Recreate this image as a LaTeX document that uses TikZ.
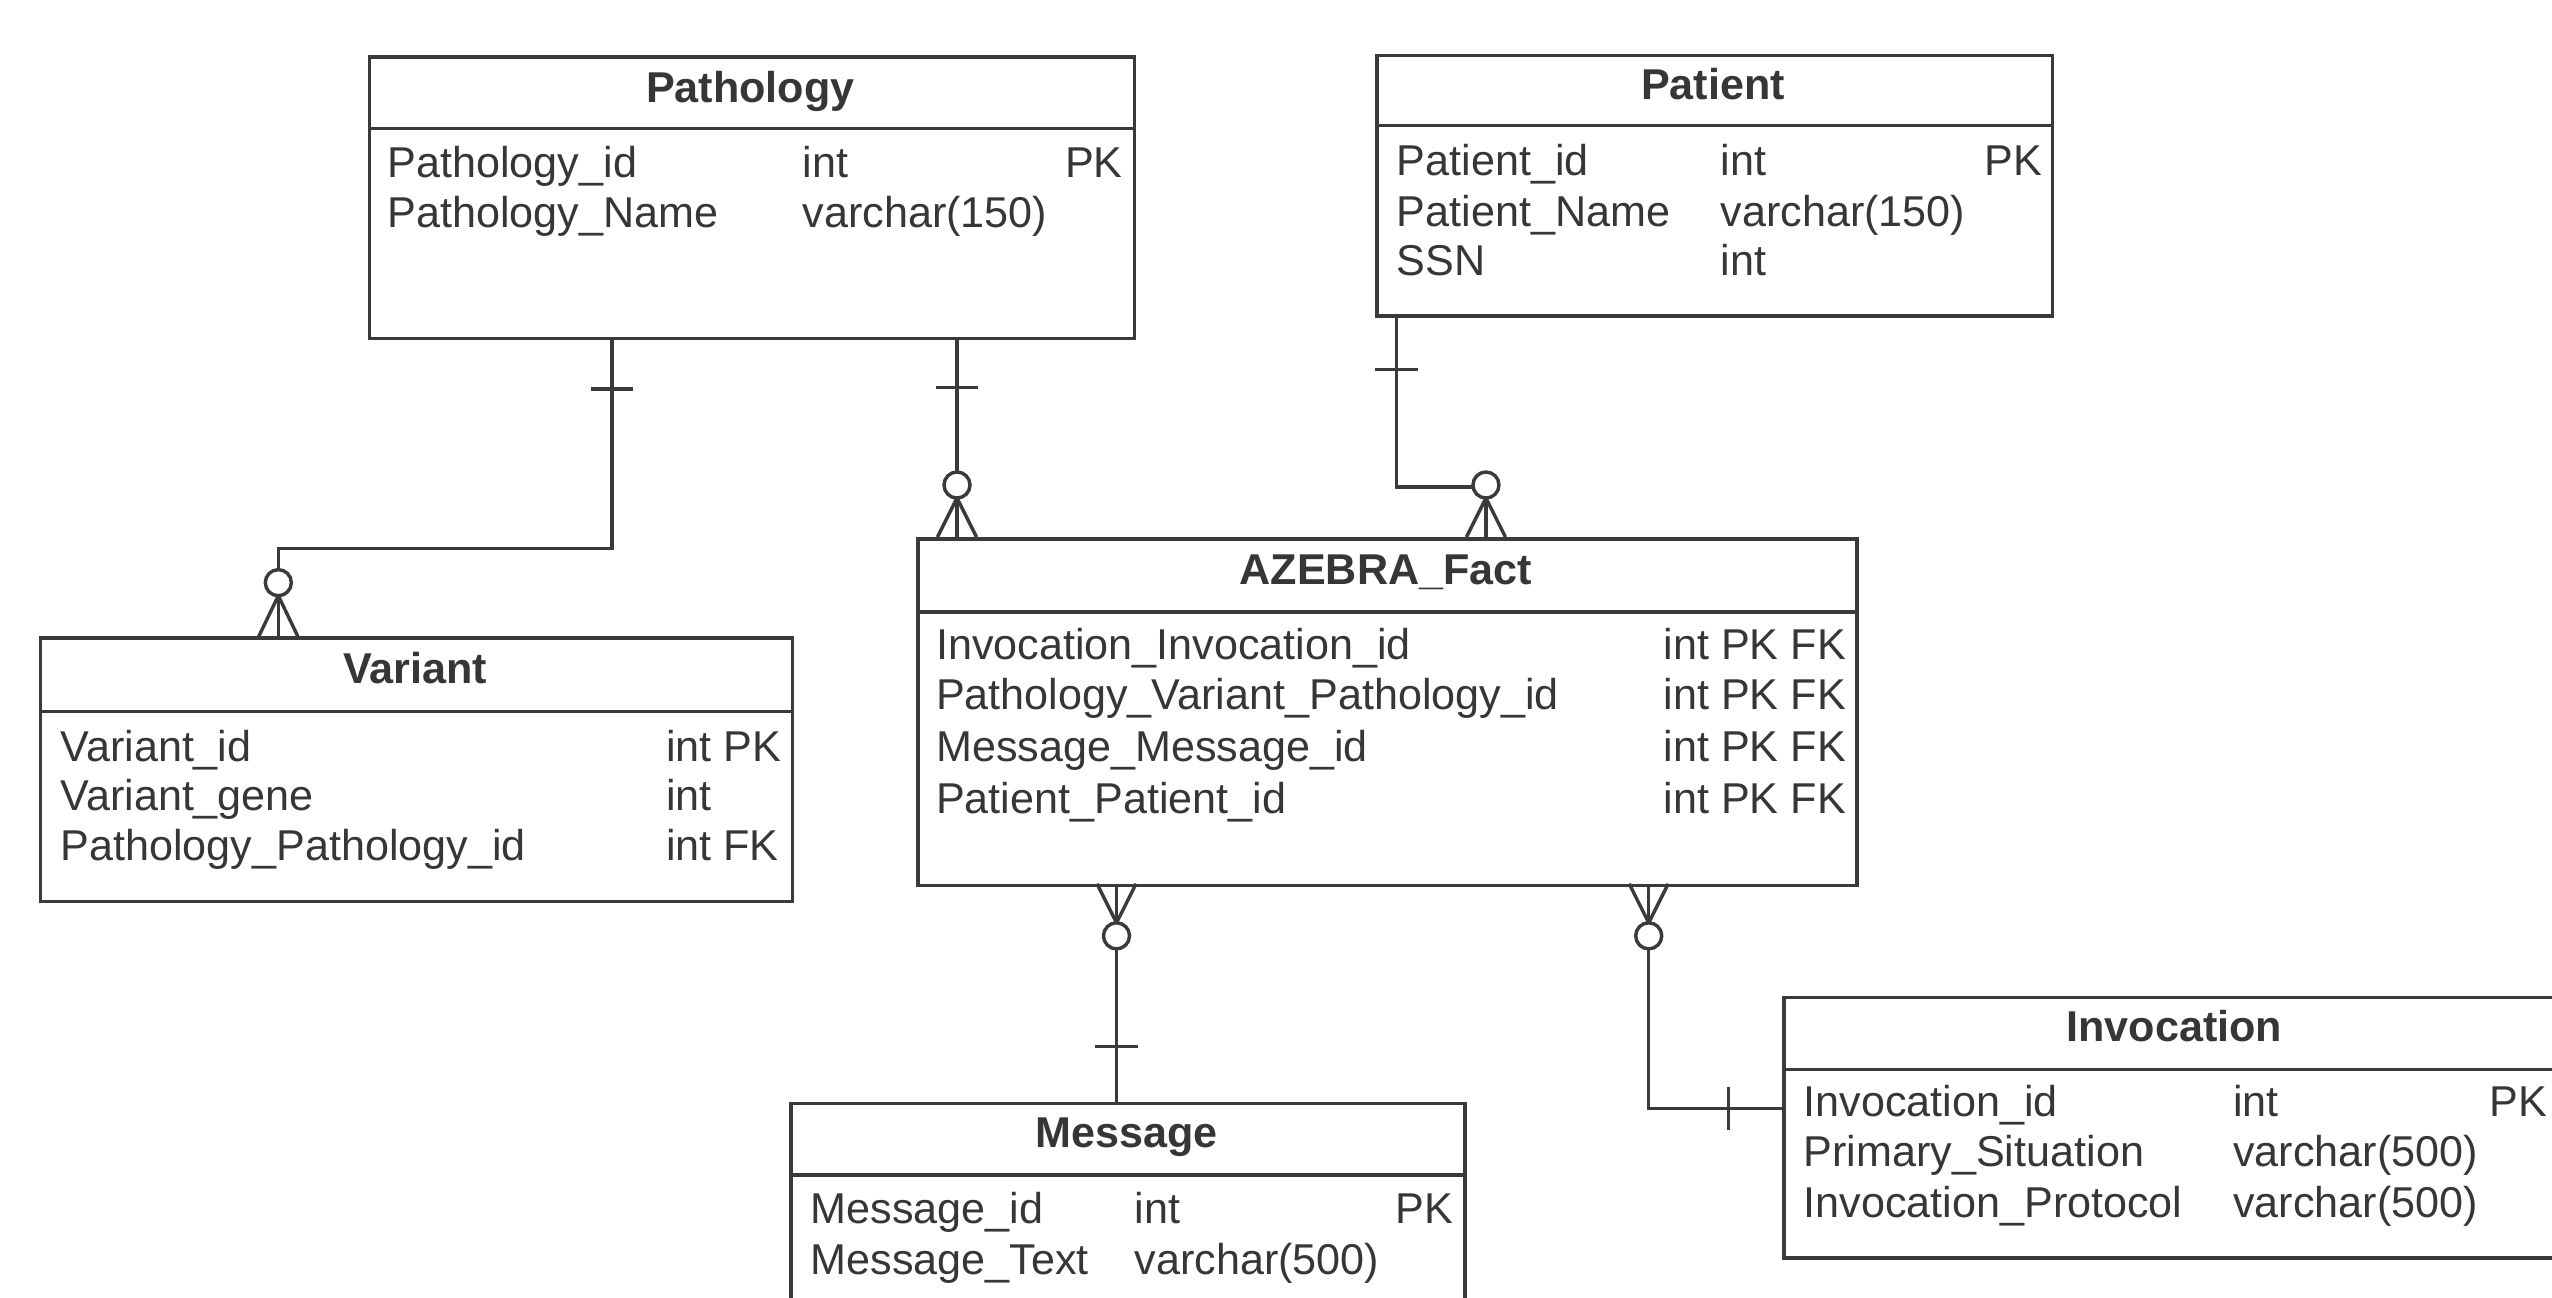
\documentclass[tikz,border=0pt]{standalone}
\usepackage{fontspec}
\setmainfont{Liberation Sans}
\definecolor{lc}{HTML}{3A3A3A}
\definecolor{tc}{HTML}{363636}
\begin{document}
\begin{tikzpicture}[x=1pt,y=-1pt,
  tbl/.style={draw=lc, line width=2.1pt, fill=white, rectangle, anchor=north west, inner sep=0pt},
  divl/.style={draw=lc, line width=2.1pt},
  hd/.style={anchor=base, font=\fontsize{26.5}{30}\selectfont\bfseries, text=tc, inner sep=0pt},
  fld/.style={anchor=base west, font=\fontsize{26.5}{30}\selectfont, text=tc, inner sep=0pt},
  fldr/.style={anchor=base east, font=\fontsize{26.5}{30}\selectfont, text=tc, inner sep=0pt},
  rel/.style={draw=lc, line width=2.1pt},
  ring/.style={draw=lc, line width=2.1pt, fill=white}]
\clip (0,0) rectangle (1568,797);
\fill[white] (0,0) rectangle (1568,797);

% ---------- Pathology ----------
\node[tbl, minimum width=470pt, minimum height=173pt] (patho) at (226,34) {};
\draw[divl] ([yshift=-45pt]patho.north west) -- ([yshift=-45pt]patho.north east);
\node[hd] (pathoH) at (461,63) {Pathology};
\node[fld] (pa1) at (238,109) {Pathology\_id};
\node[fld] (pa1t) at (493,109) {int};
\node[fldr] (pa1k) at (690,109) {PK};
\node[fld] (pa2) at (238,140) {Pathology\_Name};
\node[fld] (pa2t) at (493,140) {varchar(150)};

% ---------- Patient ----------
\node[tbl, minimum width=415pt, minimum height=160pt] (patient) at (845,33) {};
\draw[divl] ([yshift=-44pt]patient.north west) -- ([yshift=-44pt]patient.north east);
\node[hd] (patH) at (1052.5,61) {Patient};
\node[fld] (pt1) at (858,108) {Patient\_id};
\node[fld] (pt1t) at (1057,108) {int};
\node[fldr] (pt1k) at (1255,108) {PK};
\node[fld] (pt2) at (858,139) {Patient\_Name};
\node[fld] (pt2t) at (1057,139) {varchar(150)};
\node[fld] (pt3) at (858,169) {SSN};
\node[fld] (pt3t) at (1057,169) {int};

% ---------- Variant ----------
\node[tbl, minimum width=462pt, minimum height=162pt] (variant) at (24,391) {};
\draw[divl] ([yshift=-46pt]variant.north west) -- ([yshift=-46pt]variant.north east);
\node[hd] (varH) at (255,420) {Variant};
\node[fld] (v1) at (37,468) {Variant\_id};
\node[fld] (v1t) at (409,468) {int PK};
\node[fld] (v2) at (37,498) {Variant\_gene};
\node[fld] (v2t) at (409,498) {int};
\node[fld] (v3) at (37,529) {Pathology\_Pathology\_id};
\node[fld] (v3t) at (409,529) {int FK};

% ---------- AZEBRA_Fact ----------
\node[tbl, minimum width=577pt, minimum height=213pt] (fact) at (563,330) {};
\draw[divl] ([yshift=-46pt]fact.north west) -- ([yshift=-46pt]fact.north east);
\node[hd] (factH) at (851.5,359) {AZEBRA\_Fact};
\node[fld] (f1) at (575,405) {Invocation\_Invocation\_id};
\node[fld] (f1t) at (1022,405) {int PK FK};
\node[fld] (f2) at (575,436) {Pathology\_Variant\_Pathology\_id};
\node[fld] (f2t) at (1022,436) {int PK FK};
\node[fld] (f3) at (575,468) {Message\_Message\_id};
\node[fld] (f3t) at (1022,468) {int PK FK};
\node[fld] (f4) at (575,500) {Patient\_Patient\_id};
\node[fld] (f4t) at (1022,500) {int PK FK};

% ---------- Message ----------
\node[tbl, minimum width=414pt, minimum height=135pt] (msg) at (485,677) {};
\draw[divl] ([yshift=-45pt]msg.north west) -- ([yshift=-45pt]msg.north east);
\node[hd] (msgH) at (692,705) {Message};
\node[fld] (m1) at (498,752) {Message\_id};
\node[fld] (m1t) at (697,752) {int};
\node[fldr] (m1k) at (893,752) {PK};
\node[fld] (m2) at (498,783) {Message\_Text};
\node[fld] (m2t) at (697,783) {varchar(500)};

% ---------- Invocation ----------
\node[tbl, minimum width=482pt, minimum height=160pt] (inv) at (1095,612) {};
\draw[divl] ([yshift=-45pt]inv.north west) -- ([yshift=-45pt]inv.north east);
\node[hd] (invH) at (1336,640) {Invocation};
\node[fld] (i1) at (1108,686) {Invocation\_id};
\node[fld] (i1t) at (1372,686) {int};
\node[fldr] (i1k) at (1565,686) {PK};
\node[fld] (i2) at (1108,717) {Primary\_Situation};
\node[fld] (i2t) at (1372,717) {varchar(500)};
\node[fld] (i3) at (1108,748) {Invocation\_Protocol};
\node[fld] (i3t) at (1372,748) {varchar(500)};

% ---------- Relationships ----------
% Pathology -> Variant
\draw[rel] ([xshift=150pt]patho.south west) -- ++(0,128) -| ([xshift=147pt]variant.north west);
\draw[rel] (363,239) -- (389,239);
\draw[rel] (159,391) -- (171,366) -- (183,391);
\draw[ring] (171,358) circle (8pt);

% Pathology -> AZEBRA_Fact
\draw[rel] ([xshift=362pt]patho.south west) -- ([xshift=25pt]fact.north west);
\draw[rel] (575,238) -- (601,238);
\draw[rel] (576,330) -- (588,306) -- (600,330);
\draw[ring] (588,298) circle (8pt);

% Patient -> AZEBRA_Fact
\draw[rel] ([xshift=13pt]patient.south west) -- ++(0,104) -| ([xshift=350pt]fact.north west);
\draw[rel] (845,227) -- (871,227);
\draw[rel] (901,330) -- (913,306) -- (925,330);
\draw[ring] (913,298) circle (8pt);

% AZEBRA_Fact -> Message
\draw[rel] ([xshift=123pt]fact.south west) -- ([xshift=201pt]msg.north west);
\draw[rel] (674,543) -- (686,567) -- (698,543);
\draw[ring] (686,575) circle (8pt);
\draw[rel] (673,643) -- (699,643);

% AZEBRA_Fact -> Invocation
\draw[rel] ([xshift=450pt]fact.south west) |- ([yshift=-69pt]inv.north west);
\draw[rel] (1001,543) -- (1013,567) -- (1025,543);
\draw[ring] (1013,575) circle (8pt);
\draw[rel] (1062,668) -- (1062,694);
\end{tikzpicture}
\end{document}
